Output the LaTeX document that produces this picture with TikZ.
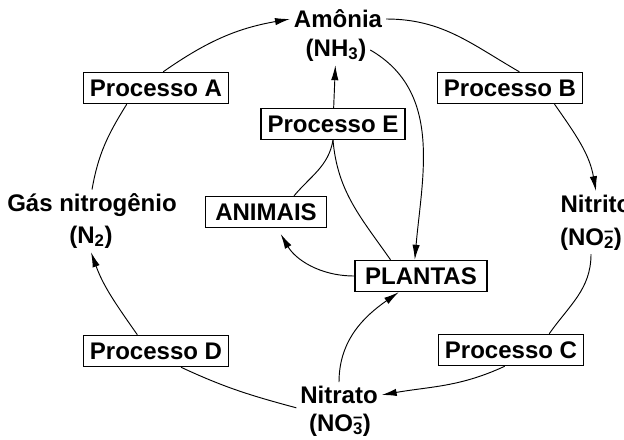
\documentclass[tikz,border=0pt]{standalone}
\usepackage{fontspec}
\setmainfont{Liberation Sans}
\usetikzlibrary{arrows.meta}
\begin{document}
\begin{tikzpicture}[x=0.03cm, y=0.03cm, line width=0.8pt,
        every node/.style={font=\bfseries\fontsize{20.5}{24}\selectfont, inner sep=3pt},
        proc/.style={draw, line width=1.2pt, minimum width=4.35cm, minimum height=0.93cm, inner sep=0pt},
        caixa/.style={draw, line width=1.2pt, minimum height=0.93cm, inner xsep=0.3cm, inner ysep=0pt},
        seta/.style={-{Latex[length=4.5mm,width=2.2mm]}}]
        \useasboundingbox (0,0) rectangle (624,439);
        \node (amonia) at (338,420) {Amônia};
        \node (nh3) at (336,389) {(NH\textsubscript{3})};
        \node (gas) at (92,234) {Gás nitrogênio};
        \node (n2) at (91,202) {(N\textsubscript{2})};
        \node (nitrito) at (596,235) {Nitrito};
        \node (no2) at (591,200) {(NO\rlap{\textsuperscript{--}}\textsubscript{2})};
        \node (nitrato) at (339,44) {Nitrato};
        \node (no3) at (340,14) {(NO\rlap{\textsuperscript{--}}\textsubscript{3})};
        \node[proc] (procA) at (156,351) {Processo A};
        \node[proc] (procB) at (510,351) {Processo B};
        \node[proc] (procC) at (511,89) {Processo C};
        \node[proc] (procD) at (156,88) {Processo D};
        \node[proc, minimum width=4.32cm] (procE) at (333,315) {Processo E};
        \node[caixa] (animais) at (266,227) {ANIMAIS};
        \node[caixa] (plantas) at (421,163) {PLANTAS};
        \draw (gas.north) to[out=80, in=238] (procA.209);
        \draw[seta] (procA.66) to[out=35, in=190] (amonia.west);
        \draw (amonia.east) to[out=0, in=150] (procB.60);
        \draw[seta] (procB.-20) to[out=-55, in=100] (nitrito.north);
        \draw (no2.south) to[out=-90, in=55] (procC.23);
        \draw[seta] (procC.249) to[out=205, in=10] (nitrato.east);
        \draw (nitrato.south west) to[out=165, in=-25] (procD.-33);
        \draw[seta] (procD.139) to[out=125, in=-70] (n2.south);
        \draw[seta] (procE) -- (nh3);
        \draw[seta] (nh3.east) to[out=-30, in=85] (plantas.111);
        \draw (procE.south) to[out=-100, in=50] (animais.30);
        \draw (procE.south) to[out=-85, in=125] (plantas.152);
        \draw[seta, shorten >=2mm] (plantas.west) to[out=180, in=-60] (animais.-55);
        \draw[seta] (nitrato.north) to[out=90, in=215] (plantas.216);
    \end{tikzpicture}
\end{document}
